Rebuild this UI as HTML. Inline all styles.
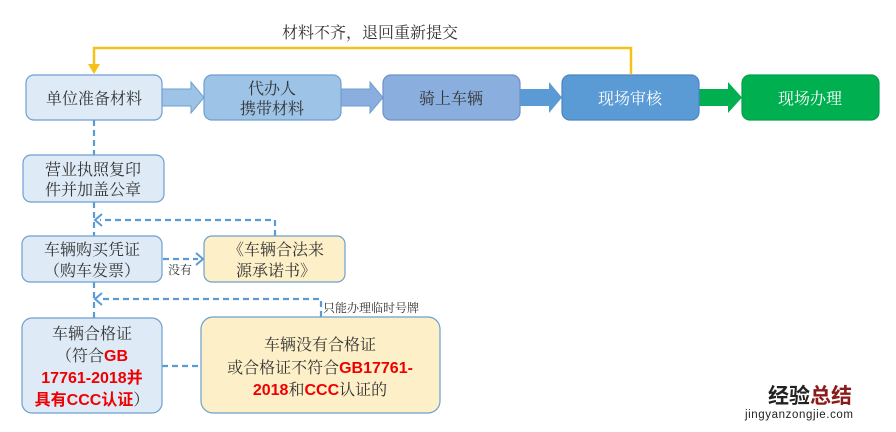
<!DOCTYPE html>
<html><head><meta charset="utf-8"><style>
html,body{margin:0;padding:0;background:#fff}
svg{display:block}
text{font-family:"Liberation Serif","Noto Serif CJK SC",serif}
.b{font-family:"Liberation Sans","Noto Sans CJK SC",sans-serif}
</style></head><body>
<svg width="896" height="432" viewBox="0 0 896 432" xmlns="http://www.w3.org/2000/svg">
<polyline points="631,74 631,48 94,48 94,70" fill="none" stroke="#f5c116" stroke-width="2.5"/>
<polygon points="88,64 100,64 94,74" fill="#f5c116"/>
<text x="370" y="38" font-size="16" text-anchor="middle" fill="#333">材料不齐，退回重新提交</text>

<polygon points="162,89 191,89 191,82 204,97.5 191,113 191,106 162,106" fill="#9dc3e6" stroke="#6d9fd0" stroke-width="1"/>
<polygon points="341,89 370,89 370,82 383,97.5 370,113 370,106 341,106" fill="#8aaede" stroke="#6d9fd0" stroke-width="1"/>
<polygon points="520,89 549,89 549,82 562,97.5 549,113 549,106 520,106" fill="#5b9bd5"/>
<polygon points="699,89 728,89 728,82 742,97.5 728,113 728,106 699,106" fill="#00b050"/>

<rect x="26" y="75" width="136" height="45" rx="8" fill="#deebf7" stroke="#6d9fd0" stroke-width="1.2"/>
<text x="94" y="104" font-size="16" text-anchor="middle" fill="#333">单位准备材料</text>
<rect x="204" y="75" width="137" height="45" rx="8" fill="#9dc3e6" stroke="#6d9fd0" stroke-width="1.2"/>
<text x="272" y="94" font-size="16" text-anchor="middle" fill="#333">代办人</text>
<text x="272" y="114" font-size="16" text-anchor="middle" fill="#333">携带材料</text>
<rect x="383" y="75" width="137" height="45" rx="8" fill="#8aaede" stroke="#6d8fc8" stroke-width="1.2"/>
<text x="451" y="104" font-size="16" text-anchor="middle" fill="#333">骑上车辆</text>
<rect x="562" y="75" width="137" height="45" rx="8" fill="#5b9bd5" stroke="#4a86c0" stroke-width="1.2"/>
<text x="630" y="104" font-size="16" text-anchor="middle" fill="#fff">现场审核</text>
<rect x="742" y="75" width="137" height="45" rx="8" fill="#00b050" stroke="#00a048" stroke-width="1.2"/>
<text x="810" y="104" font-size="16" text-anchor="middle" fill="#fff">现场办理</text>

<g fill="none" stroke="#5b9bd5" stroke-width="2.2" stroke-dasharray="6,4">
<line x1="94" y1="120" x2="94" y2="155"/>
<line x1="94" y1="202" x2="94" y2="318"/>
<polyline points="275,236 275,220 100,220"/>
<polyline points="321,317 321,299 100,299"/>
<line x1="163" y1="259" x2="198" y2="259"/>
<line x1="162" y1="366" x2="201" y2="366"/>
</g>
<g fill="none" stroke="#5b9bd5" stroke-width="2">
<polyline points="102,214 95,220 102,226"/>
<polyline points="102,293 95,299 102,305"/>
<polyline points="196,253 203,259 196,265"/>
</g>

<rect x="23" y="155" width="141" height="47" rx="8" fill="#deebf7" stroke="#6d9fd0" stroke-width="1.2"/>
<text x="93" y="175" font-size="16" text-anchor="middle" fill="#333">营业执照复印</text>
<text x="93" y="195" font-size="16" text-anchor="middle" fill="#333">件并加盖公章</text>

<rect x="22" y="236" width="140" height="46" rx="8" fill="#deebf7" stroke="#6d9fd0" stroke-width="1.2"/>
<text x="92" y="255" font-size="16" text-anchor="middle" fill="#333">车辆购买凭证</text>
<text x="92" y="276" font-size="16" text-anchor="middle" fill="#333">（购车发票）</text>
<text x="180" y="274" font-size="12" text-anchor="middle" fill="#333">没有</text>

<rect x="204" y="236" width="141" height="46" rx="8" fill="#fdf0c8" stroke="#6d9fd0" stroke-width="1.2"/>
<text x="276" y="255" font-size="16" text-anchor="middle" fill="#333">《车辆合法来</text>
<text x="276" y="276" font-size="16" text-anchor="middle" fill="#333">源承诺书》</text>

<text x="323" y="312" font-size="12" fill="#333">只能办理临时号牌</text>

<rect x="22" y="318" width="140" height="95" rx="10" fill="#deebf7" stroke="#6d9fd0" stroke-width="1.2"/>
<text x="92" y="339" font-size="16" text-anchor="middle" fill="#333">车辆合格证</text>
<text x="92" y="361" font-size="16" text-anchor="middle" fill="#333">（符合<tspan class="b" fill="#e00" font-weight="bold">GB</tspan></text>
<text class="b" x="92" y="383" font-size="16" text-anchor="middle" fill="#e00" font-weight="bold">17761-2018并</text>
<text x="92" y="405" font-size="16" text-anchor="middle" fill="#e00"><tspan class="b" font-weight="bold">具有CCC认证</tspan><tspan fill="#333">）</tspan></text>

<rect x="201" y="317" width="239" height="96" rx="12" fill="#fdf0c8" stroke="#6d9fd0" stroke-width="1.2"/>
<text x="320" y="350" font-size="16" text-anchor="middle" fill="#333">车辆没有合格证</text>
<text x="320" y="373" font-size="16" text-anchor="middle" fill="#333">或合格证不符合<tspan class="b" fill="#e00" font-weight="bold">GB17761-</tspan></text>
<text x="320" y="395" font-size="16" text-anchor="middle" fill="#333"><tspan class="b" fill="#e00" font-weight="bold">2018</tspan>和<tspan class="b" fill="#e00" font-weight="bold">CCC</tspan>认证的</text>

<text class="b" x="768" y="403" font-size="21" font-weight="bold" fill="#222">经验<tspan fill="#8b1a1a">总结</tspan></text>
<text class="b" x="745" y="418" font-size="11.5" fill="#222" letter-spacing="0.6">jingyanzongjie.com</text>
</svg>
</body></html>
